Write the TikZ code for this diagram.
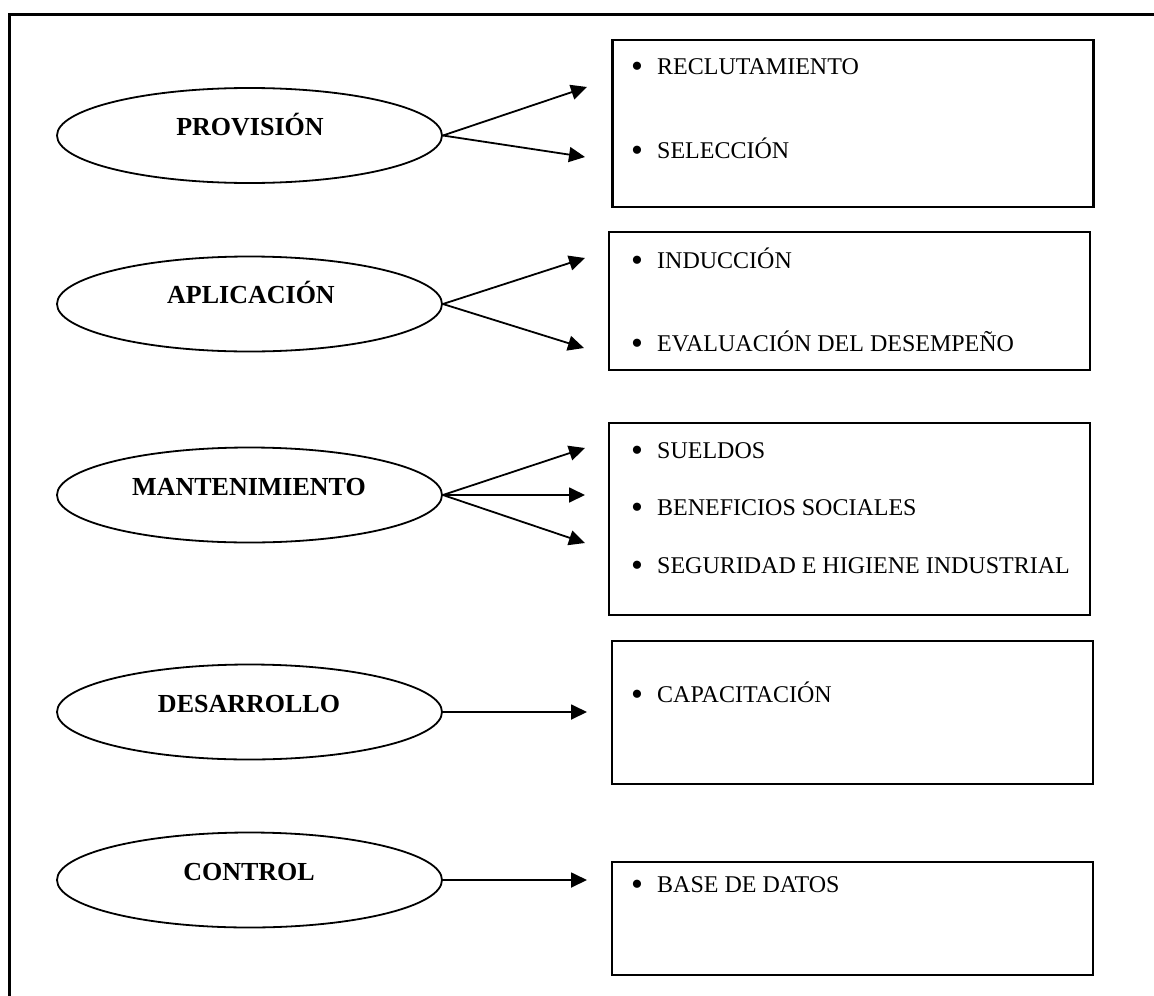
\documentclass[tikz,border=0pt]{standalone}
\usepackage{fontspec}
\setmainfont{Liberation Serif}
\usetikzlibrary{shapes.geometric,arrows.meta}
\begin{document}
\begin{tikzpicture}[x=1pt,y=-1pt,
 ell/.style={draw,line width=1.8pt,ellipse,minimum width=385pt,minimum height=95pt,inner sep=0pt},
 lab/.style={font=\fontsize{26}{30}\selectfont\bfseries,anchor=base,inner sep=0pt},
 boxnode/.style={draw,line width=2.4pt,rectangle,inner sep=0pt,minimum width=481pt},
 item/.style={font=\fontsize{24}{28}\selectfont,anchor=base west,inner sep=0pt},
 arr/.style={line width=1.8pt,-{Triangle[length=16pt,width=15pt]}}]
\useasboundingbox (0,0) rectangle (1154,996);
\draw[line width=3pt] (9,996) -- (9,14) -- (1154,14);

% ellipses
\node[ell] (e1) at (249.5,135.5) {};
\node[ell] (e2) at (249.5,304) {};
\node[ell] (e3) at (249.5,495) {};
\node[ell] (e4) at (249.5,712) {};
\node[ell] (e5) at (249.5,880) {};
\node[lab] (l1) at (250,135) {PROVISIÓN};
\node[lab] (l2) at (251,303) {APLICACIÓN};
\node[lab] (l3) at (249,495) {MANTENIMIENTO};
\node[lab] (l4) at (249,712) {DESARROLLO};
\node[lab] (l5) at (249,880) {CONTROL};

% boxes
\node[boxnode,minimum height=167pt] (b1) at (853,123.5) {};
\node[boxnode,minimum height=138pt] (b2) at (849.5,301) {};
\node[boxnode,minimum height=192pt] (b3) at (849.5,519) {};
\node[boxnode,minimum height=143pt] (b4) at (852.5,712.5) {};
\node[boxnode,minimum height=113pt] (b5) at (852.5,918.5) {};

\newcommand{\bul}{\makebox[26pt][l]{\raisebox{-3pt}{\fontsize{34}{34}\selectfont •}}}
\node[item] (i11) at (631,74) {\bul RECLUTAMIENTO};
\node[item] (i12) at (631,158) {\bul SELECCIÓN};
\node[item] (i21) at (631,268) {\bul INDUCCIÓN};
\node[item] (i22) at (631,351) {\bul EVALUACIÓN DEL DESEMPEÑO};
\node[item] (i31) at (631,458) {\bul SUELDOS};
\node[item] (i32) at (631,515) {\bul BENEFICIOS SOCIALES};
\node[item] (i33) at (631,573) {\bul SEGURIDAD E HIGIENE INDUSTRIAL};
\node[item] (i41) at (631,702) {\bul CAPACITACIÓN};
\node[item] (i51) at (631,892) {\bul BASE DE DATOS};

% arrow tips
\coordinate (t11) at (587,87);
\coordinate (t12) at (585,157);
\coordinate (t21) at (585,258);
\coordinate (t22) at (584,348);
\coordinate (t31) at (585,448);
\coordinate (t32) at (585,495);
\coordinate (t33) at (585,543);
\coordinate (t41) at (587,712);
\coordinate (t51) at (587,880);

\draw[arr] (e1.east) -- (t11);
\draw[arr] (e1.east) -- (t12);
\draw[arr] (e2.east) -- (t21);
\draw[arr] (e2.east) -- (t22);
\draw[arr] (e3.east) -- (t31);
\draw[arr] (e3.east) -- (t32);
\draw[arr] (e3.east) -- (t33);
\draw[arr] (e4.east) -- (t41);
\draw[arr] (e5.east) -- (t51);
\end{tikzpicture}
\end{document}
